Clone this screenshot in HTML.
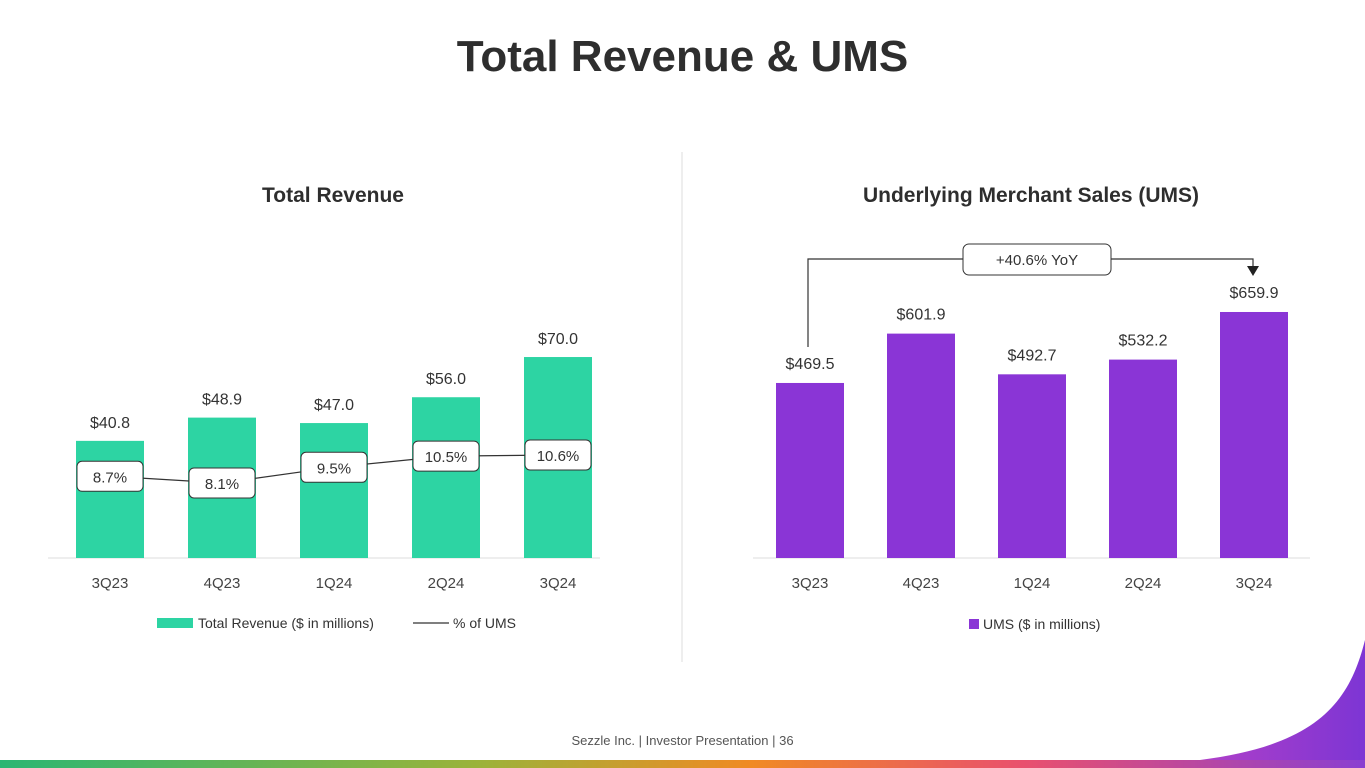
<!DOCTYPE html>
<html><head><meta charset="utf-8">
<style>
body{margin:0;width:1365px;height:768px;background:#fff;overflow:hidden;position:relative;font-family:"Liberation Sans",sans-serif;color:#2b2b2b}
#title{position:absolute;top:32px;left:0;width:1365px;text-align:center;font-size:44px;font-weight:bold;color:#2e2e2e}
.sub{position:absolute;top:184px;font-size:21px;font-weight:bold;color:#2e2e2e;text-align:center}
#footer{position:absolute;top:733px;left:0;width:1365px;text-align:center;font-size:13px;color:#555}
svg{position:absolute;left:0;top:0}
</style></head><body>
<div id="title">Total Revenue &amp; UMS</div>
<div class="sub" style="left:133px;width:400px">Total Revenue</div>
<div class="sub" style="left:781px;width:500px">Underlying Merchant Sales (UMS)</div>
<div id="footer">Sezzle Inc. | Investor Presentation | 36</div>
<svg id="chart" width="1365" height="768">
<defs>
<linearGradient id="strip" x1="0" x2="1"><stop offset="0" stop-color="#2bb673"/><stop offset="0.35" stop-color="#9bb33a"/><stop offset="0.55" stop-color="#f08a24"/><stop offset="0.75" stop-color="#e9506e"/><stop offset="1" stop-color="#8a3fd1"/></linearGradient>
<linearGradient id="corner" x1="0" x2="1"><stop offset="0" stop-color="#b040c8"/><stop offset="1" stop-color="#7d35d4"/></linearGradient>
</defs>
<path d="M1365 640 C1350 700 1320 745 1200 760 L1365 760 Z" fill="url(#corner)"/>
<rect x="0" y="760" width="1365" height="8" fill="url(#strip)"/>
<line x1="682" y1="152" x2="682" y2="662" stroke="#ddd"/>
</svg>
<script>
const cats=["3Q23","4Q23","1Q24","2Q24","3Q24"];
const revenue=[40.8,48.9,47.0,56.0,70.0];
const pctUms=[8.7,8.1,9.5,10.5,10.6];
const ums=[469.5,601.9,492.7,532.2,659.9];
const yoyLabel="+40.6% YoY";
const NS="http://www.w3.org/2000/svg";
const svg=document.getElementById('chart');
function mk(t,a,txt){const e=document.createElementNS(NS,t);for(const k in a)e.setAttribute(k,a[k]);if(txt!==undefined)e.textContent=txt;svg.appendChild(e);return e;}
const base=558;
const xL=i=>110+i*112, xR=i=>810+i*111;
const yRev=v=>base-v*2.871, yPct=v=>573.7-v*11.2, yUms=v=>base-v*0.3728;
let e;
e=mk('line',{x1:48,x2:600,y1:base,y2:base,stroke:'#ddd'});


e=mk('line',{x1:753,x2:1310,y1:base,y2:base,stroke:'#ddd'});


cats.forEach((c,i)=>{
  e=mk('rect',{x:xL(i)-34,y:yRev(revenue[i]),width:68,height:revenue[i]*2.871,fill:'#2dd4a3'});
  
  
  e=mk('text',{x:xL(i),y:yRev(revenue[i])-13,'text-anchor':'middle','font-size':16,fill:'#333'},'$'+revenue[i].toFixed(1));
  
  
  e=mk('text',{x:xL(i),y:588,'text-anchor':'middle','font-size':15,fill:'#444'},c);
  
  
  e=mk('rect',{x:xR(i)-34,y:yUms(ums[i]),width:68,height:ums[i]*0.3728,fill:'#8a35d6'});
  
  
  e=mk('text',{x:xR(i),y:yUms(ums[i])-14,'text-anchor':'middle','font-size':16,fill:'#333'},'$'+ums[i].toFixed(1));
  
  
  e=mk('text',{x:xR(i),y:588,'text-anchor':'middle','font-size':15,fill:'#444'},c);
  
  
});
e=mk('polyline',{points:pctUms.map((v,i)=>xL(i)+','+yPct(v)).join(' '),fill:'none',stroke:'#333','stroke-width':1.2});


pctUms.forEach((v,i)=>{
  e=mk('rect',{x:xL(i)-33,y:yPct(v)-15,width:66,height:30,rx:5,fill:'#fff',stroke:'#333'});
  
  
  e=mk('text',{x:xL(i),y:yPct(v)+6,'text-anchor':'middle','font-size':15,fill:'#333'},v.toFixed(1)+'%');
  
  
});
// YoY bracket
const bx1=xR(0)-2,bx2=xR(4)-1,by=259;
e=mk('polyline',{points:`${bx1},${yUms(ums[0])-36} ${bx1},${by} ${bx2},${by} ${bx2},${yUms(ums[4])-44}`,fill:'none',stroke:'#333','stroke-width':1.2});


e=mk('path',{d:`M${bx2-6} ${yUms(ums[4])-46} L${bx2+6} ${yUms(ums[4])-46} L${bx2} ${yUms(ums[4])-36} Z`,fill:'#222'});


e=mk('rect',{x:963,y:244,width:148,height:31,rx:6,fill:'#fff',stroke:'#333'});


e=mk('text',{x:1037,y:265,'text-anchor':'middle','font-size':15,fill:'#333'},yoyLabel);


// legends
e=mk('rect',{x:157,y:618,width:36,height:10,fill:'#2dd4a3'});


e=mk('text',{x:198,y:628,'font-size':14,fill:'#333'},'Total Revenue ($ in millions)');


e=mk('line',{x1:413,x2:449,y1:623,y2:623,stroke:'#333','stroke-width':1.2});


e=mk('text',{x:453,y:628,'font-size':14,fill:'#333'},'% of UMS');


e=mk('rect',{x:969,y:619,width:10,height:10,fill:'#8a35d6'});


e=mk('text',{x:983,y:629,'font-size':14,fill:'#333'},'UMS ($ in millions)');


</script>
</body></html>
